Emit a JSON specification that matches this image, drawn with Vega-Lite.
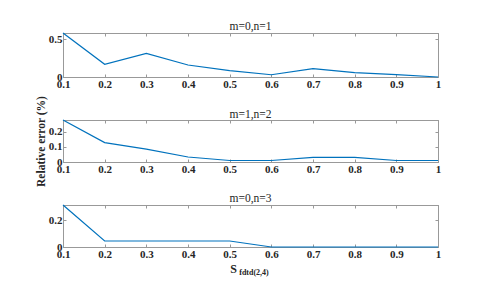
{
  "$schema": "https://vega.github.io/schema/vega-lite/v6.json",
  "padding": {"left": 34, "top": 20, "right": 5, "bottom": 2},
  "background": "white",
  "spacing": 43,
  "bounds": "flush",
  "config": {
    "font": "Liberation Serif",
    "view": {"stroke": "#999999", "strokeWidth": 1},
    "axis": {"domainColor": "#999999", "tickColor": "#999999", "tickSize": -3, "labelFont": "Liberation Serif", "labelFontWeight": "bold", "labelFontSize": 11, "labelColor": "#262626", "grid": false, "titleFont": "Liberation Serif", "titleColor": "#262626", "labelPadding": 4},
    "title": {"font": "Liberation Serif", "fontSize": 11.5, "fontWeight": "normal", "color": "#262626", "offset": -2}
  },
  "datasets": {
    "p1": [{"s":0.1,"err":0.58},{"s":0.2,"err":0.167},{"s":0.3,"err":0.31},{"s":0.4,"err":0.158},{"s":0.5,"err":0.083},{"s":0.6,"err":0.03},{"s":0.7,"err":0.11},{"s":0.8,"err":0.057},{"s":0.9,"err":0.03},{"s":1,"err":0.0}],
    "p2": [{"s":0.1,"err":0.277},{"s":0.2,"err":0.128},{"s":0.3,"err":0.085},{"s":0.4,"err":0.033},{"s":0.5,"err":0.01},{"s":0.6,"err":0.01},{"s":0.7,"err":0.03},{"s":0.8,"err":0.03},{"s":0.9,"err":0.01},{"s":1,"err":0.01}],
    "p3": [{"s":0.1,"err":0.315},{"s":0.2,"err":0.045},{"s":0.3,"err":0.045},{"s":0.4,"err":0.045},{"s":0.5,"err":0.045},{"s":0.6,"err":0.0},{"s":0.7,"err":0.0},{"s":0.8,"err":0.0},{"s":0.9,"err":0.0},{"s":1,"err":0.0}]
  },
  "title": {"text": "fdtd(2,4)", "orient": "bottom", "anchor": "middle", "fontSize": 8, "fontWeight": "bold", "font": "Liberation Serif", "color": "#262626", "dx": 16, "offset": -6},
  "vconcat": [
    {
      "title": "m=0,n=1",
      "width": 375, "height": 44,
      "data": {"name": "p1"},
      "layer": [
        {"mark": {"type": "line", "color": "#0072BD", "strokeWidth": 1.2},
         "encoding": {
           "x": {"field": "s", "type": "quantitative", "scale": {"domain": [0.1, 1], "nice": false, "zero": false}, "axis": {"values": [0.1,0.2,0.3,0.4,0.5,0.6,0.7,0.8,0.9,1], "format": "~g", "title": null, "labelFlush": false}},
           "y": {"field": "err", "type": "quantitative", "scale": {"domain": [0, 0.58], "nice": false}, "axis": {"values": [0, 0.5], "format": "~g", "title": null}}
         }},
        {"mark": {"type": "line", "opacity": 0},
         "encoding": {
           "x": {"field": "s", "type": "quantitative", "scale": {"domain": [0.1, 1], "nice": false, "zero": false}, "axis": {"orient": "top", "values": [0.1,0.2,0.3,0.4,0.5,0.6,0.7,0.8,0.9,1], "labels": false, "title": null}},
           "y": {"field": "err", "type": "quantitative", "scale": {"domain": [0, 0.58], "nice": false}, "axis": {"orient": "right", "values": [0, 0.5], "labels": false, "title": null}}
         }}
      ],
      "resolve": {"axis": {"x": "independent", "y": "independent"}}
    },
    {
      "title": {"text": "m=1,n=2", "offset": -25},
      "width": 375, "height": 42,
      "data": {"name": "p2"},
      "layer": [
        {"mark": {"type": "line", "color": "#0072BD", "strokeWidth": 1.2},
         "encoding": {
           "x": {"field": "s", "type": "quantitative", "scale": {"domain": [0.1, 1], "nice": false, "zero": false}, "axis": {"values": [0.1,0.2,0.3,0.4,0.5,0.6,0.7,0.8,0.9,1], "format": "~g", "title": null, "labelFlush": false}},
           "y": {"field": "err", "type": "quantitative", "scale": {"domain": [0, 0.277], "nice": false}, "axis": {"values": [0, 0.1, 0.2], "format": "~g", "title": "Relative error (%)", "titleFontSize": 11.5, "titleFontWeight": "bold", "titlePadding": 2}}
         }},
        {"mark": {"type": "line", "opacity": 0},
         "encoding": {
           "x": {"field": "s", "type": "quantitative", "scale": {"domain": [0.1, 1], "nice": false, "zero": false}, "axis": {"orient": "top", "values": [0.1,0.2,0.3,0.4,0.5,0.6,0.7,0.8,0.9,1], "labels": false, "title": null}},
           "y": {"field": "err", "type": "quantitative", "scale": {"domain": [0, 0.277], "nice": false}, "axis": {"orient": "right", "values": [0, 0.1, 0.2], "labels": false, "title": null}}
         }}
      ],
      "resolve": {"axis": {"x": "independent", "y": "independent"}}
    },
    {
      "title": "m=0,n=3",
      "width": 375, "height": 42,
      "data": {"name": "p3"},
      "layer": [
        {"mark": {"type": "line", "color": "#0072BD", "strokeWidth": 1.2},
         "encoding": {
           "x": {"field": "s", "type": "quantitative", "scale": {"domain": [0.1, 1], "nice": false, "zero": false}, "axis": {"values": [0.1,0.2,0.3,0.4,0.5,0.6,0.7,0.8,0.9,1], "format": "~g", "title": "S", "titleFontSize": 12, "titleFontWeight": "bold", "titleX": 170, "titleAlign": "center", "titlePadding": 4, "labelFlush": false}},
           "y": {"field": "err", "type": "quantitative", "scale": {"domain": [0, 0.315], "nice": false}, "axis": {"values": [0, 0.2], "format": "~g", "title": null}}
         }},
        {"mark": {"type": "line", "opacity": 0},
         "encoding": {
           "x": {"field": "s", "type": "quantitative", "scale": {"domain": [0.1, 1], "nice": false, "zero": false}, "axis": {"orient": "top", "values": [0.1,0.2,0.3,0.4,0.5,0.6,0.7,0.8,0.9,1], "labels": false, "title": null}},
           "y": {"field": "err", "type": "quantitative", "scale": {"domain": [0, 0.315], "nice": false}, "axis": {"orient": "right", "values": [0, 0.2], "labels": false, "title": null}}
         }}
      ],
      "resolve": {"axis": {"x": "independent", "y": "independent"}}
    }
  ]
}
